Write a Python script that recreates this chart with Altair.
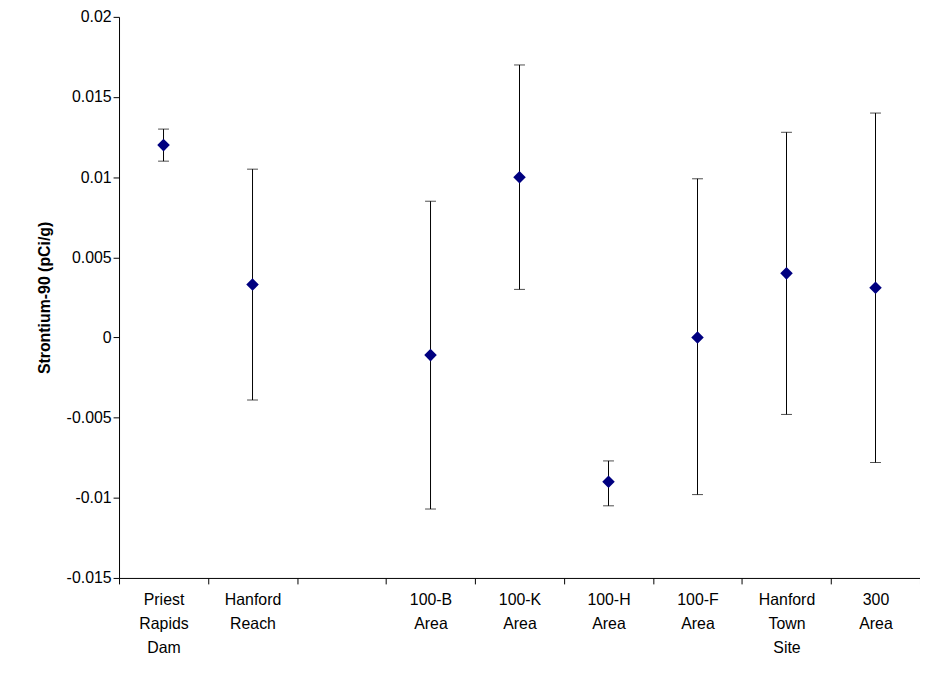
import altair as alt
import pandas as pd

# categories (blank slot between Hanford Reach and 100-B)
sites = ["Priest|Rapids|Dam", "Hanford|Reach", " ", "100-B|Area", "100-K|Area",
         "100-H|Area", "100-F|Area", "Hanford|Town|Site", "300|Area"]
plotted = ["Priest|Rapids|Dam", "Hanford|Reach", "100-B|Area", "100-K|Area",
           "100-H|Area", "100-F|Area", "Hanford|Town|Site", "300|Area"]
means = [0.012, 0.0033, -0.0011, 0.010, -0.009, 0.0000, 0.0040, 0.0031]
lows = [0.0110, -0.0039, -0.0107, 0.0030, -0.0105, -0.0098, -0.0048, -0.0078]
highs = [0.0130, 0.0105, 0.0085, 0.0170, -0.0077, 0.0099, 0.0128, 0.0140]

df = pd.DataFrame({"site": plotted, "mean": means, "low": lows, "high": highs})

font = "Liberation Sans"
x = alt.X("site:N", sort=sites,
          scale=alt.Scale(domain=sites, paddingInner=0, paddingOuter=0),
          axis=alt.Axis(title=None, labelAngle=0, tickBand="extent",
                        labelExpr="split(datum.label, '|')", labelFontSize=16,
                        labelFont=font, labelColor="black", labelPadding=8,
                        domainColor="black", tickColor="black", tickSize=6,
                        labelLineHeight=24))
yscale = alt.Scale(domain=[-0.015, 0.02], nice=False, zero=False)
yaxis = alt.Axis(title="Strontium-90 (pCi/g)", titleFontSize=16, titleFont=font,
                 titleFontWeight="bold", titleColor="black", titlePadding=14,
                 values=[-0.015, -0.01, -0.005, 0, 0.005, 0.01, 0.015, 0.02],
                 labelExpr="replace(format(datum.value, '~g'), '\u2212', '-')",
                 labelFontSize=16, labelFont=font, labelColor="black", grid=False,
                 domainColor="black", tickColor="black", tickSize=6)

base = alt.Chart(df)
rules = base.mark_rule(color="black", strokeWidth=1).encode(
    x=x, y=alt.Y("low:Q", scale=yscale, axis=yaxis), y2="high:Q")
caps_lo = base.mark_tick(color="black", size=11, thickness=1).encode(
    x=x, y=alt.Y("low:Q", scale=yscale))
caps_hi = base.mark_tick(color="black", size=11, thickness=1).encode(
    x=x, y=alt.Y("high:Q", scale=yscale))
pts = base.mark_point(shape="diamond", filled=True, color="#000080",
                      opacity=1, size=160).encode(
    x=x, y=alt.Y("mean:Q", scale=yscale))

chart = (rules + caps_lo + caps_hi + pts).properties(
    width=808, height=566, autosize=alt.AutoSizeParams(type="none"),
    background="white",
    padding={"left": 112, "top": 6, "right": 0, "bottom": 100}
).configure_view(strokeWidth=0).configure_axis(grid=False)

chart.save("out.html", embed_options={"renderer": "svg", "actions": False})
